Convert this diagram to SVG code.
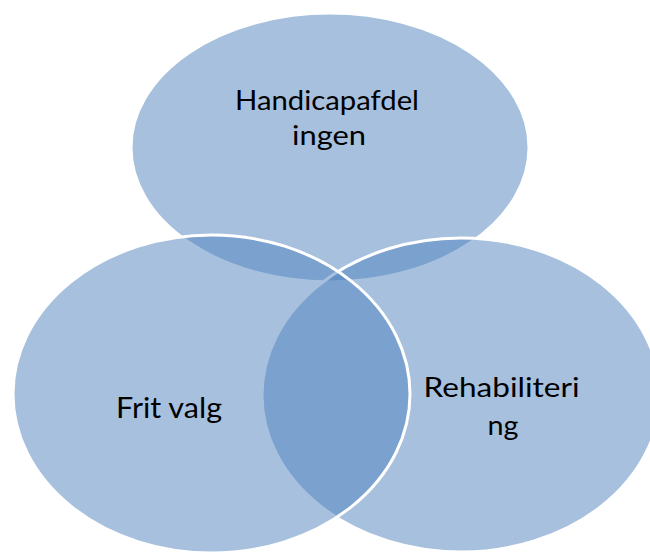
<svg xmlns="http://www.w3.org/2000/svg" width="650" height="555" viewBox="0 0 650 555">
<style>
.c{fill:#4F81BD;fill-opacity:0.5;stroke:#FFFFFF;stroke-width:3}
.t{font-family:Lato,"Open Sans","Liberation Sans",sans-serif;fill:#000000;text-anchor:middle}
</style>
<rect x="0" y="0" width="650" height="555" fill="#FFFFFF"/>
<g id="handicapafdelingen">
<ellipse class="c" cx="330" cy="147.5" rx="199" ry="134.5"/>
<text class="t" x="327" y="110" font-size="26" textLength="184" lengthAdjust="spacingAndGlyphs">Handicapafdel</text>
<text class="t" x="329" y="145" font-size="26" textLength="74" lengthAdjust="spacingAndGlyphs">ingen</text>
</g>
<g id="rehabilitering">
<ellipse class="c" cx="461" cy="395" rx="199" ry="157"/>
<text class="t" x="501.5" y="396.5" font-size="26" textLength="156" lengthAdjust="spacingAndGlyphs">Rehabiliteri</text>
<text class="t" x="503" y="435" font-size="26" textLength="31" lengthAdjust="spacingAndGlyphs">ng</text>
</g>
<g id="frit-valg">
<ellipse class="c" cx="211.5" cy="394" rx="198.5" ry="159"/>
<text class="t" x="169" y="418" font-size="29.5" textLength="106" lengthAdjust="spacingAndGlyphs">Frit valg</text>
</g>
</svg>
